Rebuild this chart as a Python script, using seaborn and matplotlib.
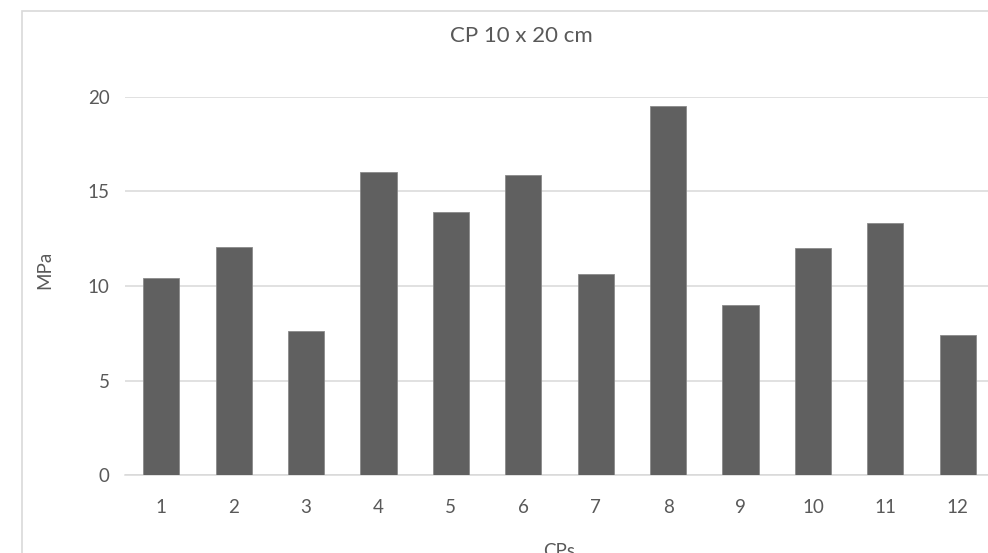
import matplotlib
matplotlib.use("Agg")
import matplotlib.pyplot as plt
from matplotlib.patches import Rectangle
import seaborn as sns
import pandas as pd

# Compressive strength of 10 x 20 cm specimens
specimens = ["1", "2", "3", "4", "5", "6", "7", "8", "9", "10", "11", "12"]
strength_mpa = [10.44, 12.05, 7.62, 16.05, 13.9, 15.86, 10.62, 19.54, 8.99, 12.0, 13.35, 7.42]
y_ticks = [0, 5, 10, 15, 20]

df = pd.DataFrame({"CPs": specimens, "MPa": strength_mpa})

sns.set_theme(style="white")
plt.rcParams["font.family"] = ["Lato", "DejaVu Sans"]

W, H = 988, 553
fig = plt.figure(figsize=(W / 100, H / 100), dpi=100)
fig.patch.set_facecolor("white")

text_color = "#595959"
grid_color = "#d9d9d9"
bar_color = "#606060"

# Plot area in pixel terms (left, bottom, right, top)
px_l, px_r, px_top, px_bot = 125, 994, 97, 475
ax = fig.add_axes([px_l / W, 1 - px_bot / H, (px_r - px_l) / W, (px_bot - px_top) / H])

sns.barplot(data=df, x="CPs", y="MPa", color=bar_color, saturation=1,
            width=0.5, ax=ax, edgecolor="#8a8a8a", linewidth=0.6, zorder=3)

ax.set_xlim(-0.5, len(specimens) - 0.5)
ax.set_ylim(0, 20)
ax.set_yticks(y_ticks)
ax.set_yticklabels([str(t) for t in y_ticks])
ax.yaxis.grid(True, color=grid_color, linewidth=1.1, zorder=0)
ax.set_axisbelow(True)
for side in ["top", "right", "left"]:
    ax.spines[side].set_visible(False)
ax.spines["bottom"].set_color(grid_color)
ax.spines["bottom"].set_linewidth(1.1)
ax.tick_params(axis="both", length=0, labelsize=13.5, colors=text_color)
ax.tick_params(axis="y", pad=11)
ax.tick_params(axis="x", pad=17)
ax.set_xlabel("")
ax.set_ylabel("")

# Chart border
fig.patches.append(Rectangle((22 / W, -0.1), 1.2, 1 - 11 / H + 0.1,
                             transform=fig.transFigure, fill=False,
                             edgecolor=grid_color, linewidth=1.2, zorder=0))

fig.text(521 / W, 1 - 36 / H, "CP 10 x 20 cm", ha="center", va="center",
         fontsize=16, color=text_color)
fig.text(45 / W, 1 - 270 / H, "MPa", ha="center", va="center",
         rotation=90, fontsize=13.5, color=text_color)
fig.text(559 / W, 1 - 543 / H, "CPs", ha="center", va="top",
         fontsize=13.5, color=text_color)

fig.savefig("out.png", dpi=100, facecolor="white")
